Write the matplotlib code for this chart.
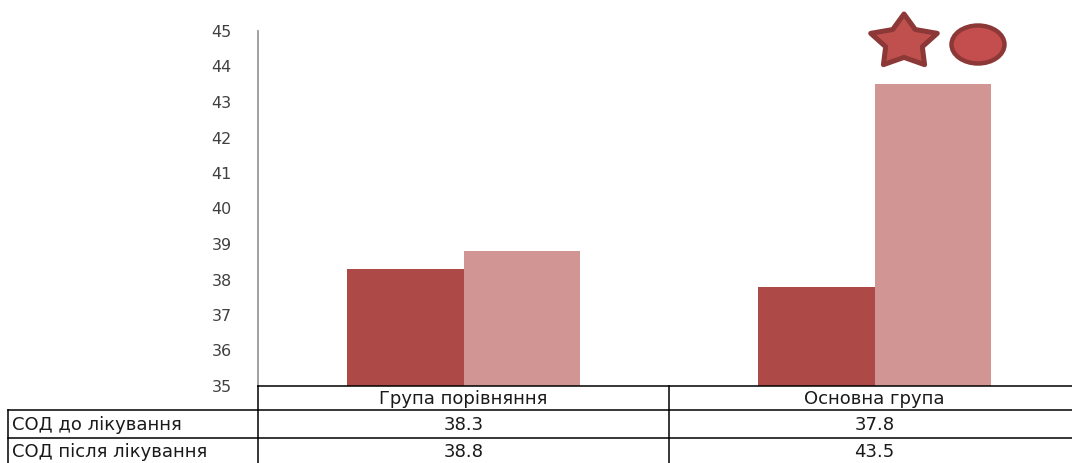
import matplotlib
matplotlib.use("Agg")
import matplotlib.pyplot as plt
import numpy as np
from matplotlib.patches import Ellipse, Polygon
from matplotlib.lines import Line2D

categories = ["Група порівняння", "Основна група"]
series_names = ["СОД до лікування", "СОД після лікування"]
before = [38.3, 37.8]
after = [38.8, 43.5]
yticks = list(range(35, 46))

dark = "#AD4A48"
light = "#D19593"

plt.rcParams['font.family'] = ['DejaVu Sans']

W, H = 1072, 463
fig = plt.figure(figsize=(W / 100, H / 100), dpi=100)

def fx(px):
    return px / W

def fy(py):
    return 1 - py / H

RIGHT = 1080
ax = fig.add_axes([fx(258), fy(386), fx(RIGHT) - fx(258), fy(31) - fy(386)])
x = np.arange(len(categories))
bw = 0.283
ax.bar(x - bw / 2, before, bw, color=dark)
ax.bar(x + bw / 2, after, bw, color=light)
ax.set_xlim(-0.5, 1.5)
ax.set_ylim(35, 45)
ax.set_yticks(yticks)
ax.set_yticklabels([str(t) for t in yticks], fontsize=11.5, color="#404040")
ax.tick_params(axis='y', length=0, pad=19)
ax.set_xticks([])
for s in ["top", "right", "bottom"]:
    ax.spines[s].set_visible(False)
ax.spines["left"].set_color("#9a9a9a")
ax.spines["left"].set_linewidth(1.3)

# significance marks (star and ellipse) drawn in pixel space
ov = fig.add_axes([0, 0, 1, 1], zorder=5)
ov.set_xlim(0, W)
ov.set_ylim(H, 0)
ov.axis("off")
cx, cy, R = 904, 42, 35
pts = []
for i in range(10):
    ang = np.pi / 2 + i * np.pi / 5
    r = R if i % 2 == 0 else 0.55 * R
    pts.append((cx + r * np.cos(ang), cy - 0.8 * r * np.sin(ang)))
ov.add_patch(Polygon(pts, closed=True, facecolor="#C0504D", edgecolor="#8C3836",
                     linewidth=3.6, joinstyle="round"))
ov.add_patch(Ellipse((978, 44.5), 53, 38, facecolor="#C44D4E",
                     edgecolor="#8C3836", linewidth=3.2))

# data table
lc = "#000000"
lw = 1.1
def hline(y, x0, x1):
    fig.add_artist(Line2D([fx(x0), fx(x1)], [fy(y), fy(y)], color=lc, lw=lw))
def vline(xp, y0, y1):
    fig.add_artist(Line2D([fx(xp), fx(xp)], [fy(y0), fy(y1)], color=lc, lw=lw))

hline(386, 258, RIGHT)
hline(410, 8, RIGHT)
hline(438, 8, RIGHT)
vline(8, 410, 463)
vline(258, 386, 463)
vline(669, 386, 463)
vline(RIGHT, 386, 463)

col_centers = [463.5, 874.5]
fs = 13
for c, cat in zip(col_centers, categories):
    fig.text(fx(c), fy(398.5), cat, ha="center", va="center", fontsize=fs, color="#1a1a1a")
rows_y = [425, 452]
for ry, name, vals in zip(rows_y, series_names, [before, after]):
    fig.text(fx(12), fy(ry), name, ha="left", va="center", fontsize=fs, color="#1a1a1a")
    for c, v in zip(col_centers, vals):
        fig.text(fx(c), fy(ry), f"{v}", ha="center", va="center", fontsize=fs, color="#1a1a1a")

fig.savefig("out.png", dpi=100)
